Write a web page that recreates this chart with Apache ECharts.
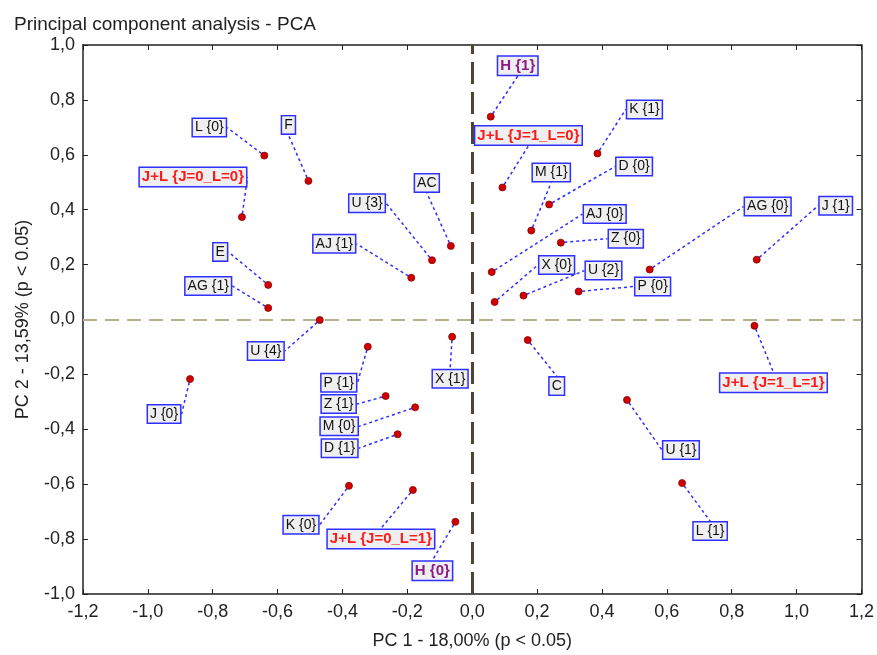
<!DOCTYPE html>
<html>
<head>
<meta charset="utf-8">
<script src="https://cdn.jsdelivr.net/npm/echarts@6/dist/echarts.min.js"></script>
<style>
  html, body { margin: 0; padding: 0; background: #fff; }
  #chart { width: 877px; height: 655px; }
</style>
</head>
<body>
<div id="chart"></div>
<script>
// point names and PCA scores
const names = ['L {0}', 'F', 'J+L {J=0_L=0}', 'E', 'AG {1}', 'AJ {1}', 'U {3}', 'AC', 'U {4}',
  'H {1}', 'J+L {J=1_L=0}', 'K {1}', 'D {0}', 'M {1}', 'AJ {0}', 'Z {0}', 'AG {0}', 'J {1}',
  'X {0}', 'U {2}', 'P {0}', 'J+L {J=1_L=1}', 'X {1}', 'C', 'U {1}', 'L {1}', 'H {0}',
  'P {1}', 'J {0}', 'Z {1}', 'M {0}', 'D {1}', 'K {0}', 'J+L {J=0_L=1}'];
const pc1 = [-0.641, -0.505, -0.710, -0.629, -0.629, -0.188, -0.124, -0.066, -0.470,
  0.057, 0.093, 0.386, 0.237, 0.182, 0.060, 0.273, 0.547, 0.877,
  0.069, 0.158, 0.328, 0.870, -0.062, 0.171, 0.477, 0.647, -0.052,
  -0.322, -0.870, -0.267, -0.176, -0.230, -0.380, -0.183];
const pc2 = [0.597, 0.505, 0.373, 0.126, 0.042, 0.152, 0.216, 0.268, -0.002,
  0.739, 0.481, 0.605, 0.419, 0.324, 0.173, 0.280, 0.182, 0.218,
  0.064, 0.087, 0.102, -0.023, -0.063, -0.075, -0.293, -0.596, -0.737,
  -0.099, -0.217, -0.279, -0.320, -0.418, -0.606, -0.621];
const xTicks = [-1.2, -1.0, -0.8, -0.6, -0.4, -0.2, 0, 0.2, 0.4, 0.6, 0.8, 1.0, 1.2];
const yTicks = [-1.0, -0.8, -0.6, -0.4, -0.2, 0, 0.2, 0.4, 0.6, 0.8, 1.0];

// where each label box sits relative to its point (px)
const labelDx = [-55, -20, -49, -48, -60, -77, -65, -24, -54,
  27, 26, 47, 85, 20, 113, 65, 118, 79,
  62, 80, 74, 19, -2, 29, 54, 28, -23,
  -29, -26, -47, -76, -58, -48, -32];
const labelDy = [-28, -56, -40, -33, -22, -34, -57, -63, 31,
  -51, -52, -44, -38, -58, -58, -4, -63, -54,
  -37, -25, -5, 57, 42, 46, 50, 48, 49,
  36, 35, 8, 19, 14, 39, 49];

const fmt = v => v.toFixed(1).replace('.', ',');

const pts = names.map((n, i) => {
  let lab = {};
  if (n.startsWith('J+L')) lab = { color: '#ff1a1a', fontWeight: 'bold', fontSize: 15 };
  else if (n.startsWith('H ')) lab = { color: '#8b1a8b', fontWeight: 'bold', fontSize: 15 };
  return { name: n, value: [pc1[i], pc2[i]], label: lab };
});

const chart = echarts.init(document.getElementById('chart'));
const axisCommon = {
  type: 'value',
  axisLine: { show: true, onZero: false, lineStyle: { color: '#222', width: 1.5 } },
  axisTick: { show: true, inside: true, length: 5, lineStyle: { color: '#222' } },
  splitLine: { show: false }
};
const txt = { fontFamily: 'Liberation Sans', fontSize: 18, color: '#222' };
chart.setOption({
  animation: false,
  title: {
    text: 'Principal component analysis - PCA',
    left: 9, top: 10,
    textStyle: { fontFamily: 'Liberation Sans', fontSize: 19, fontWeight: 'normal', color: '#222' }
  },
  grid: { left: 83, right: 13, top: 45, bottom: 60 },
  xAxis: [
    Object.assign({}, axisCommon, {
      min: xTicks[0], max: xTicks[xTicks.length - 1], interval: 0.2,
      name: 'PC 1 - 18,00% (p < 0.05)', nameLocation: 'middle', nameGap: 38,
      nameTextStyle: txt,
      axisLabel: Object.assign({ formatter: fmt, margin: 9 }, txt)
    }),
    Object.assign({}, axisCommon, {
      position: 'top', min: xTicks[0], max: xTicks[xTicks.length - 1], interval: 0.2,
      axisLabel: { show: false }
    })
  ],
  yAxis: [
    Object.assign({}, axisCommon, {
      min: yTicks[0], max: yTicks[yTicks.length - 1], interval: 0.2,
      name: 'PC 2 - 13,59% (p < 0.05)', nameLocation: 'middle', nameGap: 51,
      nameTextStyle: txt,
      axisLabel: Object.assign({ formatter: fmt, margin: 8 }, txt)
    }),
    Object.assign({}, axisCommon, {
      position: 'right', min: yTicks[0], max: yTicks[yTicks.length - 1], interval: 0.2,
      axisLabel: { show: false }
    })
  ],
  series: [
    {
      type: 'scatter',
      data: pts,
      symbolSize: 7,
      z: 5,
      itemStyle: { color: '#d10000', borderColor: '#8a0000', borderWidth: 0.8, opacity: 1 },
      label: {
        show: true,
        position: 'inside',
        formatter: p => p.name,
        fontFamily: 'Liberation Sans',
        fontSize: 14,
        color: '#111',
        backgroundColor: '#efefef',
        borderColor: '#2f2fff',
        borderWidth: 1.5,
        padding: [2, 2, 1, 2]
      },
      labelLine: {
        show: true,
        lineStyle: { color: '#2f2fff', width: 1.5, type: [3, 3] }
      },
      labelLayout: p => ({ dx: labelDx[p.dataIndex], dy: labelDy[p.dataIndex] }),
      markLine: {
        silent: true,
        symbol: 'none',
        label: { show: false },
        data: [
          { xAxis: 0, lineStyle: { color: '#4a4536', width: 3, type: [22, 8] } },
          { yAxis: 0, lineStyle: { color: '#b8b08c', width: 2, type: [14, 8] } }
        ]
      }
    }
  ]
});
</script>
</body>
</html>
